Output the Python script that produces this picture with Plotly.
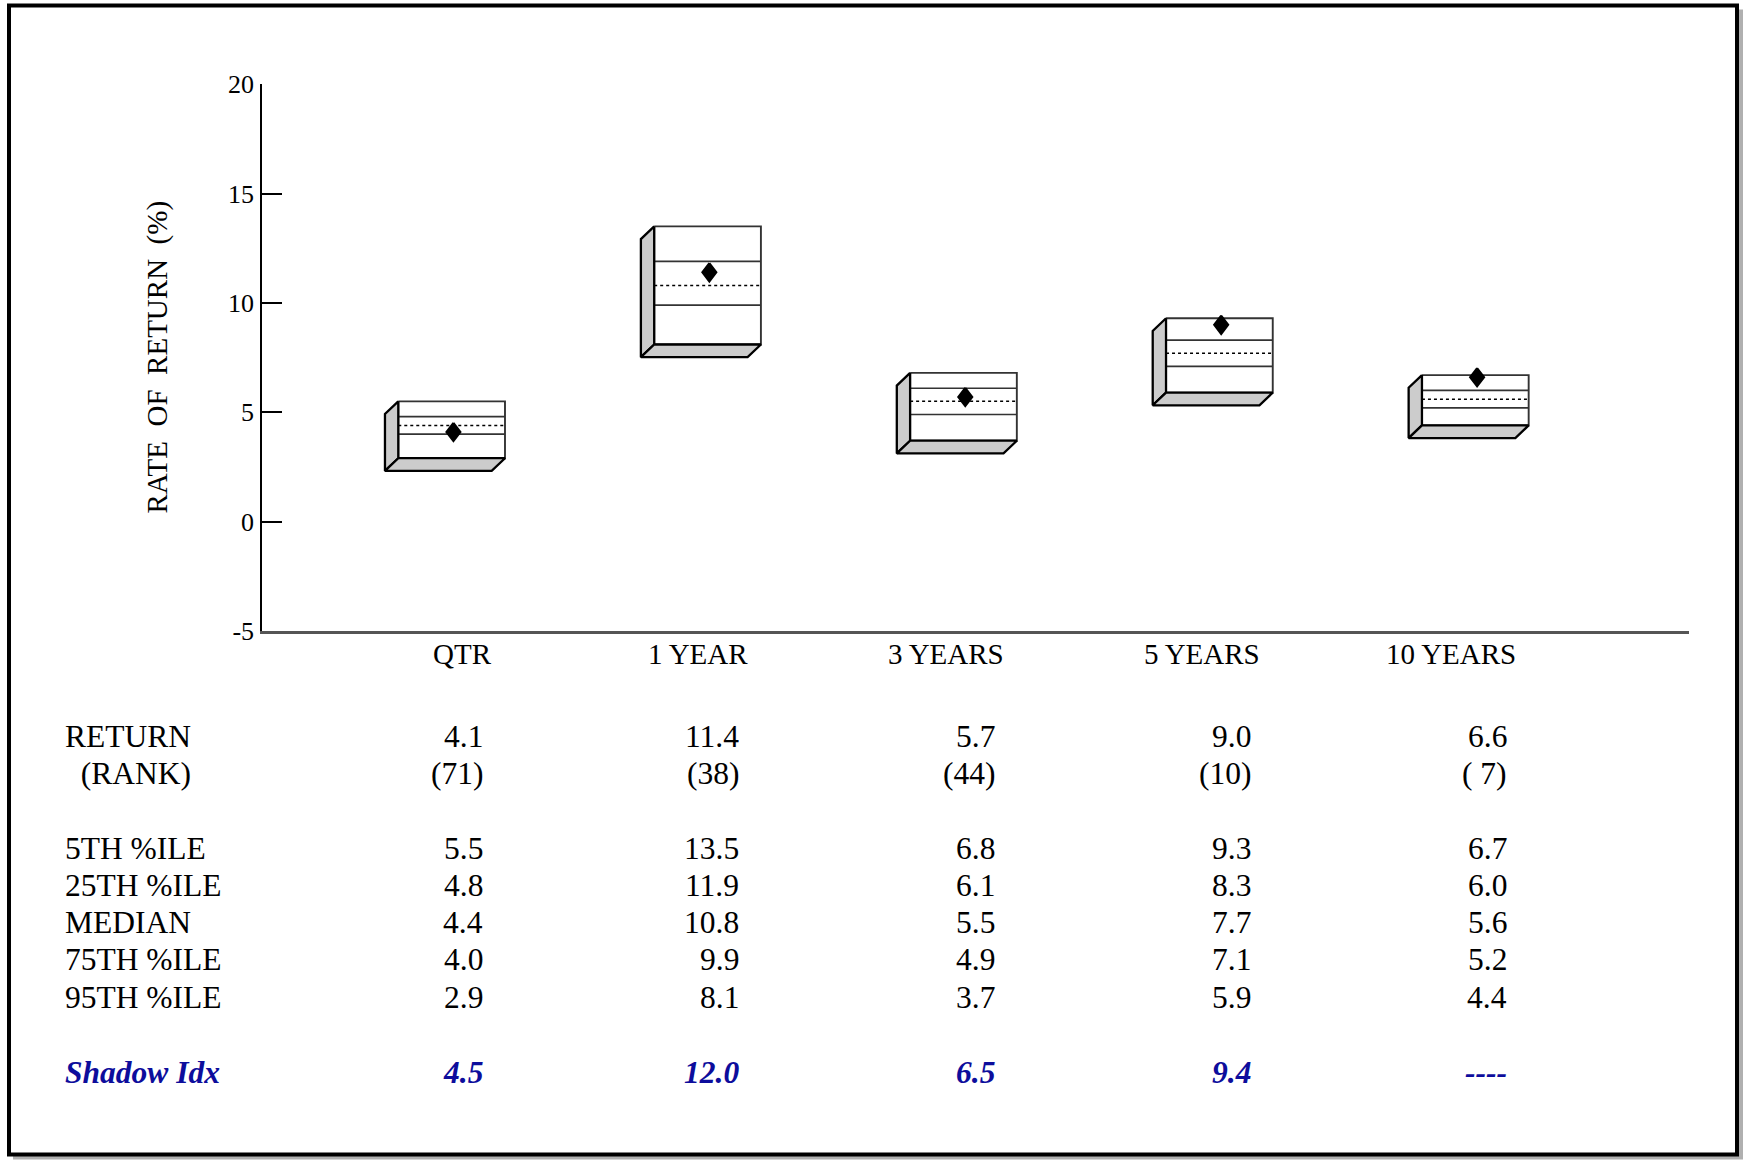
import plotly.graph_objects as go

# ---------------- data ----------------
categories = ["QTR", "1 YEAR", "3 YEARS", "5 YEARS", "10 YEARS"]
returns = [4.1, 11.4, 5.7, 9.0, 6.6]
ranks = ["(71)", "(38)", "(44)", "(10)", "( 7)"]
pct5 = [5.5, 13.5, 6.8, 9.3, 6.7]
pct25 = [4.8, 11.9, 6.1, 8.3, 6.0]
median = [4.4, 10.8, 5.5, 7.7, 5.6]
pct75 = [4.0, 9.9, 4.9, 7.1, 5.2]
pct95 = [2.9, 8.1, 3.7, 5.9, 4.4]
shadow_idx = ["4.5", "12.0", "6.5", "9.4", "----"]
y_tickvals = [-5, 0, 5, 10, 15, 20]
y_ticktext = ["-5", "0", "5", "10", "15", "20"]

row_labels = ["RETURN", "\u00a0\u00a0(RANK)", "5TH %ILE", "25TH %ILE", "MEDIAN",
              "75TH %ILE", "95TH %ILE", "Shadow Idx"]

# ---------------- layout constants ----------------
W, H = 1743, 1160
PL, PR, PT, PB = 262, 1689, 84.4, 631.5
FONT = "Liberation Serif"
BLUE = "#0d0d9c"


def px2x(p):
    return (p - PL) / (PR - PL)


def py2y(p):
    return (PB - p) / (PB - PT)


half_w = 0.2085      # half width of box front (x units)
dx, dy = 0.052, 0.58  # 3D depth offset
dhw, dhh = 0.0275, 0.42  # diamond half sizes
d_off = 0.007           # diamond slight right offset

fig = go.Figure()

for i, cat in enumerate(categories):
    top, bot = pct5[i], pct95[i]
    xl, xr = i - half_w, i + half_w
    # front face
    fig.add_trace(go.Scatter(
        x=[xl, xr, xr, xl, xl], y=[top, top, bot, bot, top],
        mode="lines", fill="toself", fillcolor="white",
        line=dict(color="#333333", width=1.9), hoverinfo="skip", showlegend=False))
    # quartile lines
    for v in (pct25[i], pct75[i]):
        fig.add_trace(go.Scatter(
            x=[xl, xr], y=[v, v], mode="lines",
            line=dict(color="#333333", width=1.6), hoverinfo="skip", showlegend=False))
    # median dotted
    fig.add_trace(go.Scatter(
        x=[xl, xr], y=[median[i], median[i]], mode="lines",
        line=dict(color="black", width=1.5, dash="dot"), hoverinfo="skip", showlegend=False))
    # left side panel
    fig.add_trace(go.Scatter(
        x=[xl, xl - dx, xl - dx, xl, xl], y=[top, top - dy, bot - dy, bot, top],
        mode="lines", fill="toself", fillcolor="#cccccc",
        line=dict(color="black", width=2.3), hoverinfo="skip", showlegend=False))
    # bottom panel
    fig.add_trace(go.Scatter(
        x=[xl, xr, xr - dx, xl - dx, xl], y=[bot, bot, bot - dy, bot - dy, bot],
        mode="lines", fill="toself", fillcolor="#cccccc",
        line=dict(color="black", width=2.3), hoverinfo="skip", showlegend=False))
    # return diamond
    r = returns[i]
    cx = i + d_off
    fig.add_trace(go.Scatter(
        x=[cx, cx + dhw, cx, cx - dhw, cx], y=[r + dhh, r, r - dhh, r, r + dhh],
        mode="lines", fill="toself", fillcolor="black",
        line=dict(color="black", width=2), hoverinfo="skip", showlegend=False))

annotations = []

# category labels (right aligned)
for i, cat in enumerate(categories):
    annotations.append(dict(
        x=i + 0.167, xref="x", y=py2y(654.8), yref="paper", text=cat,
        showarrow=False, xanchor="right", yanchor="middle",
        font=dict(family=FONT, size=29, color="black")))

# y axis title
annotations.append(dict(
    x=px2x(157), xref="paper", y=0.5, yref="paper",
    text="RATE\u00a0\u00a0OF\u00a0\u00a0RETURN\u00a0\u00a0(%)", textangle=-90,
    showarrow=False, xanchor="center", yanchor="middle",
    font=dict(family=FONT, size=29, color="black")))

# table
row_px = [737, 773.7, 849.3, 886, 922.6, 960.4, 998.2, 1072.7]
table_rows = [
    [f"{v:.1f}" for v in returns],
    ranks,
    [f"{v:.1f}" for v in pct5],
    [f"{v:.1f}" for v in pct25],
    [f"{v:.1f}" for v in median],
    [f"{v:.1f}" for v in pct75],
    [f"{v:.1f}" for v in pct95],
    shadow_idx,
]
for r_i, (label, vals) in enumerate(zip(row_labels, table_rows)):
    is_shadow = label == "Shadow Idx"
    color = BLUE if is_shadow else "black"
    fmt = (lambda s: f"<b><i>{s}</i></b>") if is_shadow else (lambda s: s)
    yv = py2y(row_px[r_i])
    annotations.append(dict(
        x=px2x(63.4), xref="paper", y=yv, yref="paper", text=fmt(label),
        showarrow=False, xanchor="left", yanchor="middle",
        font=dict(family=FONT, size=31.5, color=color)))
    for i, v in enumerate(vals):
        annotations.append(dict(
            x=i + 0.132, xref="x", y=yv, yref="paper", text=fmt(v),
            showarrow=False, xanchor="right", yanchor="middle",
            font=dict(family=FONT, size=31.5, color=color)))

shapes = [
    # drop shadow
    dict(type="rect", xref="paper", yref="paper", layer="below",
         x0=px2x(13), x1=px2x(1743), y0=py2y(1160), y1=py2y(10),
         fillcolor="#b0b0b0", line=dict(width=0)),
    # frame
    dict(type="rect", xref="paper", yref="paper", layer="below",
         x0=px2x(9), x1=px2x(1737), y0=py2y(1155), y1=py2y(6),
         fillcolor="white", line=dict(color="black", width=4)),
]

fig.update_layout(
    width=W, height=H,
    margin=dict(l=PL, r=W - PR, t=PT, b=H - PB, autoexpand=False),
    paper_bgcolor="white", plot_bgcolor="rgba(0,0,0,0)",
    showlegend=False,
    annotations=annotations, shapes=shapes,
    xaxis=dict(range=[-0.741, 4.835], showticklabels=False, ticks="",
               showgrid=False, zeroline=False, showline=True,
               linecolor="#555555", linewidth=2.5, fixedrange=True),
    yaxis=dict(range=[-5, 20.01], tickvals=y_tickvals, ticktext=y_ticktext,
               ticks="inside", ticklen=20,
               tickwidth=1.5, tickcolor="black", showgrid=False, zeroline=False,
               showline=True, linecolor="black", linewidth=1.5,
               ticklabelstandoff=1,
               tickfont=dict(family=FONT, size=26, color="black"), fixedrange=True),
)

fig.write_html(
    "out.html",
    config={"displayModeBar": False},
    post_script="document.body.style.margin='0';document.body.style.overflow='hidden';",
)
